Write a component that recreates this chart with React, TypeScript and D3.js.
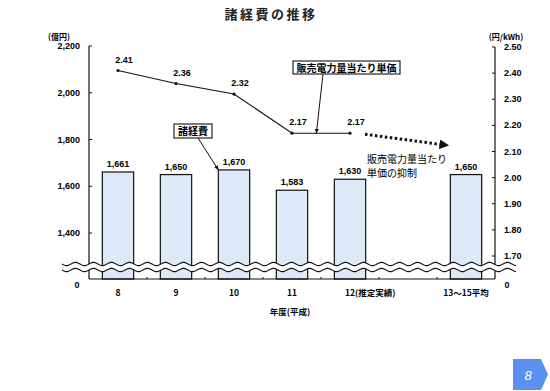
import React, { useEffect, useRef } from "react";
import * as d3 from "d3";

const title = "諸経費の推移";
const categories = ["8", "9", "10", "11", "12", "13〜15平均"];
const slots = ["8", "9", "10", "11", "12", "gap", "13〜15平均"];
const labelSuffix = ["", "", "", "", "(推定実績)", ""];
const costValues = [1661, 1650, 1670, 1583, 1630, 1650];
const unitPrice = [2.41, 2.36, 2.32, 2.17, 2.17];
const leftTicks = [1400, 1600, 1800, 2000, 2200];
const rightTicks = [1.7, 1.8, 1.9, 2.0, 2.1, 2.2, 2.3, 2.4, 2.5];

const App = () => {
  const width = 550;
  const height = 391;
  const svgRef = useRef(null);

  useEffect(() => {
    const svg = d3.select(svgRef.current);
    svg.selectAll("*").remove();

    const jp = "'Noto Sans CJK JP', sans-serif";
    const num = "'Liberation Sans', Arial, sans-serif";
    const baseY = 279;
    const left = 89;
    const right = 495;

    const x = d3.scaleBand().domain(slots).range([left, right]).paddingInner(0.46).paddingOuter(0.23);
    const cx = (c) => x(c) + x.bandwidth() / 2;
    const yL = d3.scaleLinear().domain([1400, 2200]).range([233, 46]);
    const yR = d3.scaleLinear().domain([1.7, 2.5]).range([256, 47]);

    svg.append("rect").attr("width", width).attr("height", height).attr("fill", "#fff");

    // title
    svg.append("text").attr("x", 271).attr("y", 19).attr("text-anchor", "middle")
      .attr("font-family", jp).attr("font-size", 13).attr("font-weight", "bold")
      .attr("letter-spacing", 2.5).attr("fill", "#222").text(title);

    // unit labels
    svg.append("text").attr("x", 59).attr("y", 40).attr("text-anchor", "middle")
      .attr("font-family", jp).attr("font-size", 8).attr("font-weight", "bold").text("(億円)");
    svg.append("text").attr("x", 506).attr("y", 40).attr("text-anchor", "middle")
      .attr("font-family", jp).attr("font-size", 8).attr("font-weight", "bold").text("(円/kWh)");

    // bars
    svg.append("g").selectAll("rect").data(costValues).join("rect")
      .attr("x", (d, i) => x(categories[i]))
      .attr("y", (d) => yL(d))
      .attr("width", x.bandwidth())
      .attr("height", (d) => baseY - yL(d))
      .attr("fill", "#dde9f7")
      .attr("stroke", "#111")
      .attr("stroke-width", 1.2);

    svg.append("g").selectAll("text").data(costValues).join("text")
      .attr("x", (d, i) => cx(categories[i]))
      .attr("y", (d) => yL(d) - 5)
      .attr("text-anchor", "middle")
      .attr("font-family", num).attr("font-size", 9).attr("font-weight", "bold")
      .text((d) => d3.format(",")(d));

    // left axis
    svg.append("line").attr("x1", left).attr("x2", left).attr("y1", yL(2200)).attr("y2", baseY)
      .attr("stroke", "#111").attr("stroke-width", 1.2);
    const lt = svg.append("g").selectAll("g").data(leftTicks).join("g");
    lt.append("line").attr("x1", left).attr("x2", left + 3).attr("y1", (d) => yL(d)).attr("y2", (d) => yL(d))
      .attr("stroke", "#111");
    lt.append("text").attr("x", left - 9).attr("y", (d) => yL(d) + 3).attr("text-anchor", "end")
      .attr("font-family", num).attr("font-size", 9).attr("font-weight", "bold")
      .text((d) => d3.format(",")(d));
    svg.append("text").attr("x", 77).attr("y", baseY + 9).attr("text-anchor", "middle")
      .attr("font-family", num).attr("font-size", 9).attr("font-weight", "bold").text("0");

    // right axis
    svg.append("line").attr("x1", right).attr("x2", right).attr("y1", yR(2.5)).attr("y2", baseY)
      .attr("stroke", "#111").attr("stroke-width", 1.2);
    const rt = svg.append("g").selectAll("g").data(rightTicks).join("g");
    rt.append("line").attr("x1", right - 3).attr("x2", right).attr("y1", (d) => yR(d)).attr("y2", (d) => yR(d))
      .attr("stroke", "#111");
    rt.append("text").attr("x", right + 9).attr("y", (d) => yR(d) + 3)
      .attr("font-family", num).attr("font-size", 9).attr("font-weight", "bold")
      .text((d) => d3.format(".2f")(d));
    svg.append("text").attr("x", right + 12).attr("y", baseY + 9).attr("text-anchor", "middle")
      .attr("font-family", num).attr("font-size", 9).attr("font-weight", "bold").text("0");

    // baseline + slot ticks
    svg.append("line").attr("x1", left).attr("x2", right).attr("y1", baseY).attr("y2", baseY)
      .attr("stroke", "#111").attr("stroke-width", 1.2);
    svg.append("g").selectAll("line").data(slots.slice(1)).join("line")
      .attr("x1", (d) => x(d) - x.step() * x.paddingInner() / 2)
      .attr("x2", (d) => x(d) - x.step() * x.paddingInner() / 2)
      .attr("y1", baseY).attr("y2", baseY - 2).attr("stroke", "#111");

    // axis break
    const waveX = d3.range(62, 517, 1);
    const wy = (d) => 1.6 * Math.sin((d - 62) / 18 * 2 * Math.PI);
    const wave = (off) => d3.line().x((d) => d).y((d) => off + wy(d))(waveX);
    const area = d3.area().x((d) => d).y0((d) => 264 + wy(d)).y1((d) => 270 + wy(d));
    svg.append("path").attr("d", area(waveX)).attr("fill", "#fff");
    svg.append("path").attr("d", wave(264)).attr("fill", "none").attr("stroke", "#111").attr("stroke-width", 1.1);
    svg.append("path").attr("d", wave(270)).attr("fill", "none").attr("stroke", "#111").attr("stroke-width", 1.1);

    // x labels
    const xl = svg.append("g").selectAll("g").data(categories).join("g");
    xl.append("text").attr("x", (d) => cx(d)).attr("y", 296).attr("text-anchor", "middle")
      .attr("font-family", jp).attr("font-size", 8.5).attr("font-weight", "bold")
      .text((d, i) => (labelSuffix[i] ? "" : d));
    xl.filter((d, i) => labelSuffix[i] !== "").append("text")
      .attr("x", (d) => cx(d) - 5).attr("y", 296)
      .attr("font-family", jp).attr("font-size", 8.5).attr("font-weight", "bold")
      .text((d, i) => d + labelSuffix[4]);
    svg.append("text").attr("x", 290).attr("y", 315).attr("text-anchor", "middle")
      .attr("font-family", jp).attr("font-size", 8.5).attr("font-weight", "bold").text("年度(平成)");

    // line series
    const pts = unitPrice.map((v, i) => [cx(categories[i]), yR(v)]);
    svg.append("path").attr("d", d3.line()(pts)).attr("fill", "none").attr("stroke", "#111").attr("stroke-width", 1.1);
    svg.append("g").selectAll("circle").data(pts).join("circle")
      .attr("cx", (d) => d[0]).attr("cy", (d) => d[1]).attr("r", 1.6).attr("fill", "#111");
    svg.append("g").selectAll("text").data(unitPrice).join("text")
      .attr("x", (d, i) => pts[i][0] + 6).attr("y", (d) => yR(d) - 8)
      .attr("text-anchor", "middle")
      .attr("font-family", num).attr("font-size", 9).attr("font-weight", "bold")
      .text((d) => d3.format(".2f")(d));

    // callouts
    const defs = svg.append("defs");
    defs.append("marker").attr("id", "ah").attr("viewBox", "0 0 10 10").attr("refX", 9).attr("refY", 5)
      .attr("markerWidth", 5).attr("markerHeight", 5).attr("orient", "auto")
      .append("path").attr("d", "M0,1L10,5L0,9Z").attr("fill", "#111");
    defs.append("marker").attr("id", "ah2").attr("viewBox", "0 0 10 10").attr("refX", 5).attr("refY", 5)
      .attr("markerWidth", 3.2).attr("markerHeight", 3.2).attr("orient", "auto")
      .append("path").attr("d", "M0,0L10,5L0,10Z").attr("fill", "#111");

    const lineTarget = [cx("11") + (cx("12") - cx("11")) * 0.42, yR(2.17)];
    svg.append("line").attr("x1", 323).attr("y1", 74).attr("x2", lineTarget[0]).attr("y2", lineTarget[1])
      .attr("stroke", "#111").attr("stroke-width", 1).attr("marker-end", "url(#ah)");
    svg.append("rect").attr("x", 293).attr("y", 61).attr("width", 107).attr("height", 13)
      .attr("fill", "#fff").attr("stroke", "#111").attr("stroke-width", 1.1);
    svg.append("text").attr("x", 346.5).attr("y", 71.5).attr("text-anchor", "middle")
      .attr("font-family", jp).attr("font-size", 10).attr("font-weight", "bold").text("販売電力量当たり単価");

    svg.append("line").attr("x1", 198).attr("y1", 138).attr("x2", x("10")).attr("y2", yL(1670))
      .attr("stroke", "#111").attr("stroke-width", 1).attr("marker-end", "url(#ah)");
    svg.append("rect").attr("x", 174).attr("y", 124).attr("width", 38).attr("height", 14)
      .attr("fill", "#fff").attr("stroke", "#111").attr("stroke-width", 1.1);
    svg.append("text").attr("x", 193).attr("y", 135).attr("text-anchor", "middle")
      .attr("font-family", jp).attr("font-size", 10).attr("font-weight", "bold").text("諸経費");

    // dotted trend arrow
    svg.append("line").attr("x1", cx("12") + 15).attr("y1", yR(2.17) + 1)
      .attr("x2", x("13〜15平均") - 6).attr("y2", yR(2.125))
      .attr("stroke", "#111").attr("stroke-width", 3).attr("stroke-dasharray", "2.5,2.5")
      .attr("marker-end", "url(#ah2)");
    svg.append("text").attr("x", 367).attr("y", 163)
      .attr("font-family", jp).attr("font-size", 10).text("販売電力量当たり");
    svg.append("text").attr("x", 367).attr("y", 177)
      .attr("font-family", jp).attr("font-size", 10).text("単価の抑制");

    // page badge
    svg.append("path").attr("d", "M513,359L541,359L548,374.5L541,390L513,390Z").attr("fill", "#5b8ff0");
    svg.append("text").attr("x", 528).attr("y", 380).attr("text-anchor", "middle")
      .attr("font-family", num).attr("font-size", 13).attr("font-style", "italic").attr("fill", "#fff").text("8");
  }, []);

  return (
    <svg ref={svgRef} width={width} height={height}
      style={{ position: "absolute", left: 0, top: 0, display: "block" }}></svg>
  );
};

export default App;
